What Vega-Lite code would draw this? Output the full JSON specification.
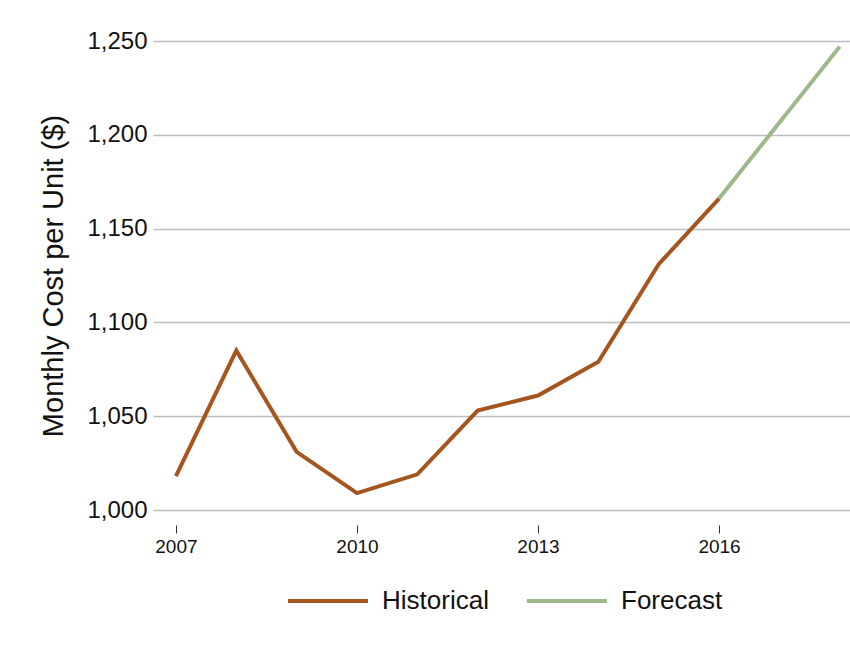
{
  "$schema": "https://vega.github.io/schema/vega-lite/v6.json",
  "width": 697,
  "height": 469,
  "autosize": "none",
  "padding": {"left": 153, "top": 41, "right": 0, "bottom": 138},
  "background": "white",
  "config": {
    "font": "Liberation Sans",
    "view": {"stroke": null},
    "axis": {"labelColor": "#111", "titleColor": "#111"}
  },
  "data": {
    "values": [
      {"year": 2007, "cost": 1018, "series": "Historical"},
      {"year": 2008, "cost": 1085, "series": "Historical"},
      {"year": 2009, "cost": 1031, "series": "Historical"},
      {"year": 2010, "cost": 1009, "series": "Historical"},
      {"year": 2011, "cost": 1019, "series": "Historical"},
      {"year": 2012, "cost": 1053, "series": "Historical"},
      {"year": 2013, "cost": 1061, "series": "Historical"},
      {"year": 2014, "cost": 1079, "series": "Historical"},
      {"year": 2015, "cost": 1131, "series": "Historical"},
      {"year": 2016, "cost": 1166, "series": "Historical"},
      {"year": 2016, "cost": 1166, "series": "Forecast"},
      {"year": 2018, "cost": 1247, "series": "Forecast"}
    ]
  },
  "mark": {"type": "line", "strokeWidth": 4, "clip": false},
  "encoding": {
    "x": {
      "field": "year",
      "type": "quantitative",
      "scale": {"domain": [2006.62, 2018.17], "nice": false, "zero": false},
      "axis": {
        "values": [2007, 2010, 2013, 2016],
        "format": "d",
        "title": null,
        "grid": false,
        "domain": false,
        "offset": 15,
        "tickSize": 8,
        "tickColor": "#333",
        "labelFontSize": 19,
        "labelPadding": 4
      }
    },
    "y": {
      "field": "cost",
      "type": "quantitative",
      "scale": {"domain": [1000, 1250], "nice": false, "zero": false},
      "axis": {
        "values": [1000, 1050, 1100, 1150, 1200, 1250],
        "format": ",d",
        "title": "Monthly Cost per Unit ($)",
        "titleFontSize": 29,
        "titleFontWeight": "normal",
        "titlePadding": 18,
        "domain": false,
        "ticks": false,
        "labelFontSize": 24,
        "labelPadding": 6,
        "grid": true,
        "gridColor": "#bdbdbd",
        "gridWidth": 1.5
      }
    },
    "color": {
      "field": "series",
      "type": "nominal",
      "scale": {"domain": ["Historical", "Forecast"], "range": ["#A5561F", "#9DB98B"]},
      "legend": {
        "title": null,
        "orient": "none",
        "direction": "horizontal",
        "legendX": 133,
        "legendY": 518,
        "symbolType": "stroke",
        "symbolSize": 6400,
        "symbolStrokeWidth": 4,
        "labelFontSize": 26,
        "labelColor": "#111",
        "labelOffset": 12,
        "columnPadding": 30
      }
    },
    "detail": {"field": "series"}
  }
}
